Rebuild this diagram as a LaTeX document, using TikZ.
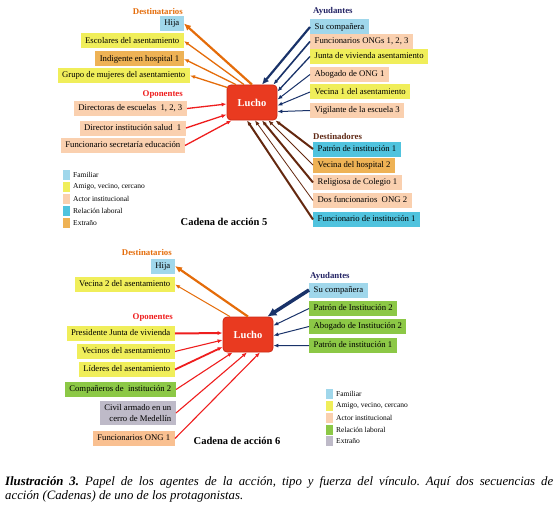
\documentclass[tikz,border=0pt]{standalone}
\usepackage{fontspec}
\setmainfont{Liberation Serif}
\usetikzlibrary{arrows.meta}
\definecolor{famc}{RGB}{160,215,235}
\definecolor{amic}{RGB}{240,238,90}
\definecolor{actc}{RGB}{250,208,175}
\definecolor{relc}{RGB}{80,195,222}
\definecolor{extc}{RGB}{238,178,85}
\definecolor{grnc}{RGB}{140,200,70}
\definecolor{gryc}{RGB}{190,186,200}
\definecolor{onc}{RGB}{249,192,145}
\definecolor{oarc}{RGB}{228,108,10}
\definecolor{rarc}{RGB}{238,30,30}
\definecolor{narc}{RGB}{25,50,105}
\definecolor{barc}{RGB}{100,40,15}
\definecolor{ayuc}{RGB}{35,35,100}
\definecolor{desc}{RGB}{95,40,20}
\definecolor{luchoc}{RGB}{233,58,32}
\definecolor{luchob}{RGB}{205,42,22}
\tikzset{
  box/.style={inner xsep=4.5pt, inner ysep=0pt, minimum height=15pt, text height=6pt, text depth=1.8pt, font=\fontsize{8.7}{10}\selectfont},
  lbox/.style={box, anchor=east},
  rbox/.style={box, anchor=west},
  ttl/.style={inner sep=0pt, font=\fontsize{8.8}{10}\selectfont\bfseries},
  lucho/.style={fill=luchoc, draw=luchob, line width=0.8pt, rounded corners=4pt, minimum width=50pt, minimum height=35pt, text=white, font=\fontsize{10.5}{12}\selectfont\bfseries},
  legsq/.style={inner sep=0pt, minimum width=7pt, minimum height=10pt},
  legtx/.style={inner sep=0pt, anchor=west, font=\fontsize{7.5}{8.5}\selectfont},
  cad/.style={inner sep=0pt, font=\fontsize{10.5}{12}\selectfont\bfseries},
  thin/.style={line width=1pt, -{Latex[length=5pt,width=4pt]}},
  thk/.style={line width=2.2pt, -{Latex[length=7pt,width=6.5pt]}},
  thkk/.style={line width=3.5pt, -{Latex[length=9pt,width=9pt]}},
}
\begin{document}
\begin{tikzpicture}[x=1pt,y=-1pt]
\useasboundingbox (0,0) rectangle (560,511);

% ---------- Cadena 5 ----------
\node[lucho] (L5) at (252,102.5) {Lucho};

\node[ttl, text=oarc, anchor=east] (t5d) at (183,11) {Destinatarios};
\node[lbox, fill=famc] (d5a) at (184,23.5) {Hija};
\node[lbox, fill=amic] (d5b) at (184,41) {Escolares del asentamiento};
\node[lbox, fill=extc] (d5c) at (184,59) {Indigente en hospital 1};
\node[lbox, fill=amic] (d5d) at (190,75.5) {Grupo de mujeres del asentamiento};

\node[ttl, text=rarc, anchor=east] (t5o) at (183,95) {Oponentes};
\node[lbox, fill=actc] (o5a) at (187,108.5) {Directoras de escuelas\ \ 1, 2, 3};
\node[lbox, fill=actc] (o5b) at (186,128) {Director institución salud\ \ 1};
\node[lbox, fill=actc] (o5c) at (185,145.5) {Funcionario secretaría\ educación};

\node[ttl, text=ayuc, anchor=west] (t5a) at (313,11) {Ayudantes};
\node[rbox, fill=famc] (a5a) at (310,27) {Su compañera};
\node[rbox, fill=actc] (a5b) at (310,41.5) {Funcionarios ONGs 1, 2, 3};
\node[rbox, fill=amic] (a5c) at (310,56.5) {Junta de vivienda asentamiento};
\node[rbox, fill=actc] (a5d) at (310,74.5) {Abogado de ONG 1};
\node[rbox, fill=amic] (a5e) at (310,92) {Vecina 1 del asentamiento};
\node[rbox, fill=actc] (a5f) at (310,110.5) {Vigilante de la escuela 3};

\node[ttl, text=desc, anchor=west] (t5s) at (313,136) {Destinadores};
\node[rbox, fill=relc] (s5a) at (313,149) {Patrón de institución 1};
\node[rbox, fill=extc] (s5b) at (313,165) {Vecina del hospital 2};
\node[rbox, fill=actc] (s5c) at (313,182.5) {Religiosa de Colegio 1};
\node[rbox, fill=actc] (s5d) at (313,200.5) {Dos funcionarios\ \ ONG 2};
\node[rbox, fill=relc] (s5e) at (313,219.5) {Funcionario de institución 1};

% arrows destinatarios 5
\draw[oarc, thk] (L5.north) -- (d5a.east);
\draw[oarc, thin, line width=1.3pt] ([xshift=-8pt]L5.north) -- (d5b.east);
\draw[oarc, thin, line width=1.3pt] ([xshift=-16pt]L5.north) -- (d5c.east);
\draw[oarc, thin, line width=1.3pt] ([xshift=1pt,yshift=-3pt]L5.north west) -- (d5d.east);
% oponentes 5
\draw[rarc, thin, line width=1.3pt] (o5a.east) -- ([yshift=-1.5pt]L5.west);
\draw[rarc, thin, line width=1.3pt] (o5b.east) -- ([yshift=-12pt]L5.west);
\draw[rarc, thin, line width=1.3pt] (o5c.east) -- ([xshift=5pt]L5.south west);
% ayudantes 5
\draw[narc, thk] (a5a.west) -- ([xshift=10pt]L5.north);
\draw[narc, thin, line width=1.6pt] (a5b.west) -- ([xshift=-4pt]L5.north east);
\draw[narc, thin, line width=1.3pt] (a5c.west) -- ([yshift=-7pt]L5.north east);
\draw[narc, thin] (a5d.west) -- ([yshift=-15pt]L5.north east);
\draw[narc, thin] (a5e.west) -- ([yshift=-21pt]L5.north east);
\draw[narc, thin] (a5f.west) -- ([yshift=-27pt]L5.north east);
% destinadores 5
\draw[barc, thin, line width=2pt] (s5a.west) -- ([xshift=-2pt]L5.south east);
\draw[barc, thin, line width=0.8pt] (s5b.west) -- ([xshift=-9pt]L5.south east);
\draw[barc, thin, line width=2pt] (s5c.west) -- ([xshift=10pt]L5.south);
\draw[barc, thin, line width=0.8pt] (s5d.west) -- ([xshift=3pt]L5.south);
\draw[barc, thin, line width=2pt] (s5e.west) -- ([xshift=-5pt]L5.south);

% legend 1
\node[legsq, fill=famc] (g1a) at (66.5,175) {};
\node[legsq, fill=amic] (g1b) at (66.5,187) {};
\node[legsq, fill=actc] (g1c) at (66.5,199) {};
\node[legsq, fill=relc] (g1d) at (66.5,211) {};
\node[legsq, fill=extc] (g1e) at (66.5,223) {};
\node[legtx] (h1a) at (73,175) {Familiar};
\node[legtx] (h1b) at (73,187) {Amigo, vecino, cercano};
\node[legtx] (h1c) at (73,199) {Actor institucional};
\node[legtx] (h1d) at (73,211) {Relación laboral};
\node[legtx] (h1e) at (73,223) {Extraño};
\node[cad] (c5) at (224,222) {Cadena de acción 5};

% ---------- Cadena 6 ----------
\node[lucho] (L6) at (248,334.5) {Lucho};

\node[ttl, text=oarc, anchor=east] (t6d) at (172,252) {Destinatarios};
\node[lbox, fill=famc] (d6a) at (175,266) {Hija};
\node[lbox, fill=amic] (d6b) at (175,284.5) {Vecina 2 del asentamiento};

\node[ttl, text=rarc, anchor=east] (t6o) at (173,318) {Oponentes};
\node[lbox, fill=amic] (o6a) at (175,333.5) {Presidente Junta de vivienda};
\node[lbox, fill=amic] (o6b) at (175,351.5) {Vecinos del asentamiento};
\node[lbox, fill=amic] (o6c) at (175,369.5) {Líderes del asentamiento};
\node[lbox, fill=grnc] (o6d) at (176,389.5) {Compañeros de\ \ institución 2};
\node[lbox, fill=gryc, align=right, text height=, text depth=, minimum height=24pt, font=\fontsize{8.7}{10.5}\selectfont] (o6e) at (176,413) {Civil armado en un\\cerro de Medellín};
\node[lbox, fill=onc] (o6f) at (175,438.5) {Funcionarios ONG 1};

\node[ttl, text=ayuc, anchor=west] (t6a) at (310,276) {Ayudantes};
\node[rbox, fill=famc] (a6a) at (309,290) {Su compañera};
\node[rbox, fill=grnc] (a6b) at (309,308.5) {Patrón de Institución 2};
\node[rbox, fill=grnc] (a6c) at (309,326.5) {Abogado de Institución 2};
\node[rbox, fill=grnc] (a6d) at (309,345.5) {Patrón de institución 1};

% arrows destinatarios 6
\draw[oarc, thk] (L6.north) -- (d6a.east);
\draw[oarc, thin] ([xshift=-18pt]L6.north) -- (d6b.east);
% oponentes 6
\draw[rarc, thin, line width=2pt] (o6a.east) -- ([yshift=1.5pt]L6.west);
\draw[rarc, thin, line width=1.1pt] (o6b.east) -- ([yshift=-5.5pt]L6.west);
\draw[rarc, thin, line width=1.8pt] (o6c.east) -- ([yshift=-12.5pt]L6.west);
\draw[rarc, thin, line width=1.1pt] (o6d.east) -- ([xshift=10pt]L6.south west);
\draw[rarc, thin, line width=1.1pt] (o6e.east) -- ([xshift=-1pt]L6.south);
\draw[rarc, thin, line width=1.1pt] (o6f.east) -- ([xshift=12pt]L6.south);
% ayudantes 6
\draw[narc, thkk] (a6a.west) -- ([xshift=-6pt]L6.north east);
\draw[narc, thin] (a6b.west) -- ([yshift=-9pt]L6.north east);
\draw[narc, thin] (a6c.west) -- ([yshift=-19pt]L6.north east);
\draw[narc, thin] (a6d.west) -- ([yshift=-29pt]L6.north east);

% legend 2
\node[legsq, fill=famc] (g2a) at (329,394) {};
\node[legsq, fill=amic] (g2b) at (329,406) {};
\node[legsq, fill=actc] (g2c) at (329,418) {};
\node[legsq, fill=grnc] (g2d) at (329,430) {};
\node[legsq, fill=gryc] (g2e) at (329,441) {};
\node[legtx] (h2a) at (336,394) {Familiar};
\node[legtx] (h2b) at (336,406) {Amigo, vecino, cercano};
\node[legtx] (h2c) at (336,418) {Actor institucional};
\node[legtx] (h2d) at (336,430) {Relación laboral};
\node[legtx] (h2e) at (336,441) {Extraño};
\node[cad] (c6) at (237,441) {Cadena de acción 6};

% caption
\node[anchor=north west, inner sep=0pt, text width=548pt, align=justify, font=\fontsize{12.8}{14}\selectfont\itshape\frenchspacing] (cap) at (5,476)
{\textbf{Ilustración 3.} Papel de los agentes de la acción, tipo y fuerza del vínculo. Aquí dos secuencias de\linebreak acción (Cadenas) de uno de los protagonistas.};
\end{tikzpicture}
\end{document}
